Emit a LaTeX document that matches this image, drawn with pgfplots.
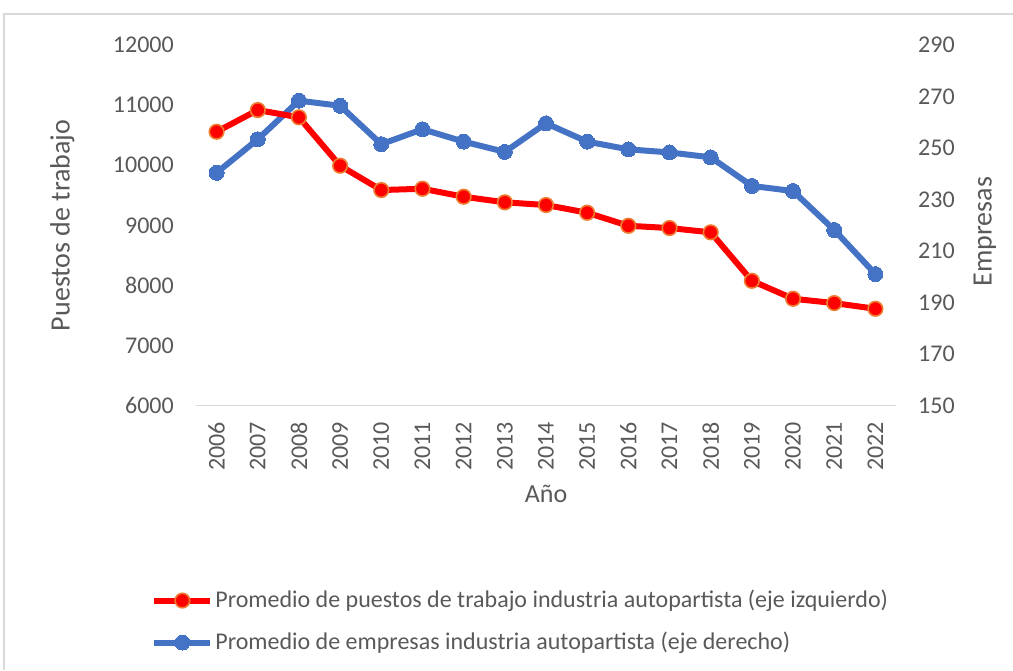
\documentclass[border=0pt]{standalone}
\usepackage{fontspec}
\setmainfont{Carlito}
\usepackage{pgfplots}
\pgfplotsset{compat=1.18}
\definecolor{tickgray}{HTML}{595959}
\definecolor{axgray}{HTML}{D9D9D9}
\definecolor{xlred}{HTML}{FF0000}
\definecolor{xlorange}{HTML}{ED7D31}
\definecolor{xlblue}{HTML}{4472C4}
\begin{document}
\fontsize{23}{28}\selectfont
\begin{tikzpicture}
\useasboundingbox (0,0) rectangle (1013pt,670pt);
\draw[axgray, line width=1.2pt] (4pt,0pt) -- (4pt,656pt) -- (1013pt,656pt);
% right axis (empresas), drawn first
\begin{axis}[
  at={(196pt,264.3pt)}, anchor=south west,
  width=700pt, height=360.7pt, scale only axis,
  xmin=2005.5, xmax=2022.5, ymin=150, ymax=290,
  ytick={150,170,...,290},
  scaled y ticks=false,
  axis x line=none,
  axis y line*=right,
  y axis line style={draw=none},
  major tick length=0pt,
  tick label style={font=\fontsize{24}{28}\selectfont, text=tickgray},
  /pgf/number format/assume math mode=true,
  /pgf/number format/1000 sep={},
  yticklabel style={anchor=west, inner sep=0pt},
  yticklabel shift=22pt,
  ylabel={Empresas},
  ylabel style={at={(axis description cs:1.127,0.483)}, anchor=center, font=\fontsize{28}{32}\selectfont, text=tickgray},
  clip=false,
]
\addplot[xlblue, line width=6pt, mark=*, mark size=7.5pt, mark options={fill=xlblue, draw=xlblue, line width=0pt}] coordinates {
(2006,240.4) (2007,253.4) (2008,268.4) (2009,266.4) (2010,251.5) (2011,257.3)
(2012,252.5) (2013,248.5) (2014,259.6) (2015,252.5) (2016,249.5) (2017,248.3)
(2018,246.4) (2019,235.3) (2020,233.3) (2021,218.2) (2022,201.1)};
\end{axis}
% left axis (puestos de trabajo)
\begin{axis}[
  at={(196pt,264.3pt)}, anchor=south west,
  width=700pt, height=360.7pt, scale only axis,
  xmin=2005.5, xmax=2022.5, ymin=6000, ymax=12000,
  xtick={2006,2007,...,2022},
  ytick={6000,7000,...,12000},
  scaled y ticks=false, scaled x ticks=false,
  axis x line*=bottom,
  axis y line*=left,
  y axis line style={draw=none},
  x axis line style={axgray, line width=1.5pt},
  major tick length=0pt,
  tick label style={font=\fontsize{24}{28}\selectfont, text=tickgray},
  /pgf/number format/assume math mode=true,
  /pgf/number format/1000 sep={},
  yticklabel style={anchor=east, inner sep=0pt},
  yticklabel shift=22pt,
  xticklabel style={rotate=90, anchor=east, inner sep=0pt},
  xticklabel shift=16pt,
  ylabel={Puestos de trabajo},
  ylabel style={at={(axis description cs:-0.191,0.5)}, anchor=center, font=\fontsize{28}{32}\selectfont, text=tickgray},
  xlabel={Año},
  xlabel style={at={(axis description cs:0.5,-0.244)}, anchor=center, font=\fontsize{26}{30}\selectfont, text=tickgray},
  legend style={at={(axis description cs:-0.064,-0.505)}, anchor=north west, draw=none, fill=none,
    inner sep=0pt, row sep=17pt, font=\fontsize{24}{28}\selectfont, text=tickgray,
    nodes={inner sep=2pt}, cells={anchor=west}},
  legend image code/.code={\draw[mark repeat=2,mark phase=2] plot coordinates {(0pt,0pt)(28pt,0pt)(56pt,0pt)};},
  clip=false,
]
\addplot[xlred, line width=6pt, mark=*, mark size=7.3pt, mark options={fill=xlred, draw=xlorange, line width=1.6pt}] coordinates {
(2006,10557) (2007,10918) (2008,10797) (2009,9992) (2010,9587) (2011,9609)
(2012,9476) (2013,9383) (2014,9338) (2015,9210) (2016,8993) (2017,8955)
(2018,8884) (2019,8078) (2020,7779) (2021,7707) (2022,7612)};
\addlegendentry{Promedio de puestos de trabajo industria autopartista (eje izquierdo)}
\addlegendimage{xlblue, line width=6pt, mark=*, mark size=7.5pt, mark options={fill=xlblue, draw=xlblue, line width=0pt}}
\addlegendentry{Promedio de empresas industria autopartista (eje derecho)}
\end{axis}
\end{tikzpicture}
\end{document}
